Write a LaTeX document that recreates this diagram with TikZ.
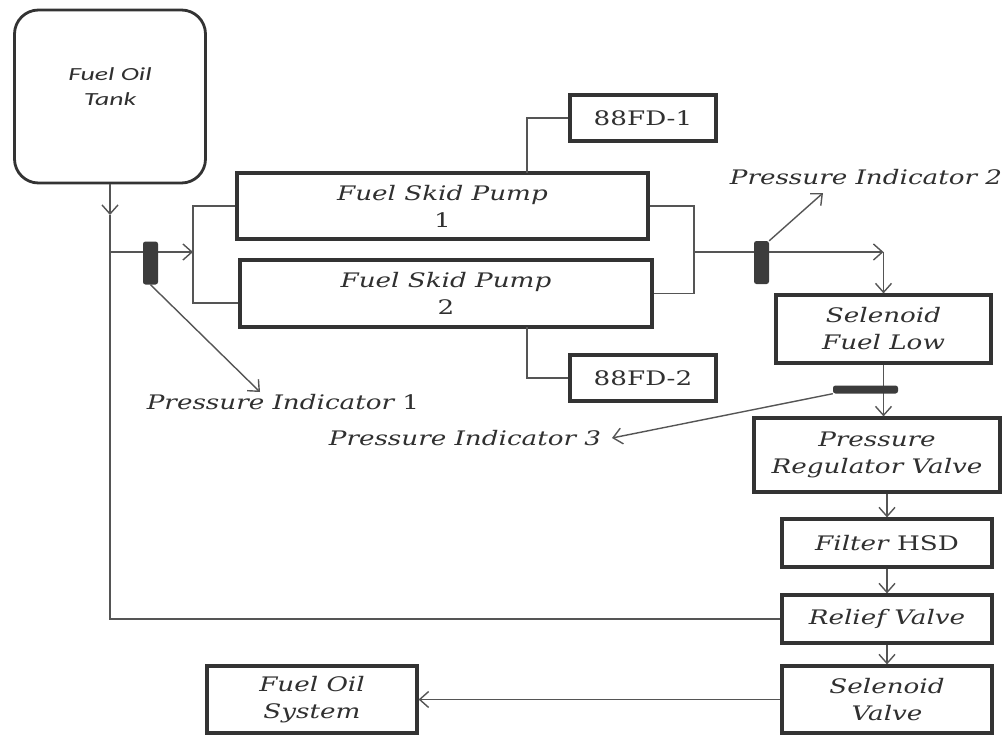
\documentclass[tikz,border=0pt]{standalone}
\usepackage{fontspec}
\setmainfont{DejaVu Serif}[FakeStretch=1.31]
\newfontfamily\tankfont{Carlito}[FakeStretch=1.5]
\usetikzlibrary{arrows.meta,calc}
\definecolor{boxc}{HTML}{333333}
\definecolor{linec}{HTML}{555555}
\definecolor{barc}{HTML}{3C3C3C}
\definecolor{textc}{HTML}{303030}
\begin{document}
\begin{tikzpicture}[x=1pt,y=-1pt,
  box/.style={draw=boxc,line width=3.2pt,fill=white,inner sep=0pt,align=center,text=textc,
    font=\fontsize{20}{27}\selectfont\itshape},
  conn/.style={draw=linec,line width=1.4pt},
  arr/.style={conn,-{Straight Barb[length=9pt,width=16pt,line width=1.4pt]}},
  bar/.style={fill=barc,draw=none,rounded corners=2.5pt,inner sep=0pt},
  lbl/.style={font=\fontsize{20}{24}\selectfont\itshape,inner sep=0pt,text=textc}]
\useasboundingbox[fill=white] (0,0) rectangle (1003,734);

% boxes
\node[box,fill=none,line width=2.8pt,minimum width=191,minimum height=173,rounded corners=24pt] (tank) at (110,96.5) {};
\node[font=\tankfont\itshape\fontsize{18.5}{25}\selectfont,align=center,text=textc] (tanklbl) at (110,87) {Fuel Oil\\Tank};
\node[box,minimum width=411,minimum height=66] (p1) at (442.5,206) {Fuel Skid Pump\\{\upshape 1}};
\node[box,minimum width=412,minimum height=67] (p2) at (446,293.5) {Fuel Skid Pump\\{\upshape 2}};
\node[box,minimum width=146,minimum height=46] (fd1) at (643,118) {\upshape 88FD-1};
\node[box,minimum width=146,minimum height=46] (fd2) at (643,378) {\upshape 88FD-2};
\node[box,minimum width=215,minimum height=68] (sfl) at (883.5,329) {Selenoid\\Fuel Low};
\node[box,minimum width=246,minimum height=74] (prv) at (877,455) {Pressure\\Regulator Valve};
\node[box,minimum width=210,minimum height=48] (fil) at (887,543) {Filter {\upshape HSD}};
\node[box,minimum width=210,minimum height=48] (rel) at (887,619) {Relief Valve};
\node[box,minimum width=210,minimum height=67] (sv) at (887,699.5) {Selenoid\\Valve};
\node[box,minimum width=210,minimum height=67] (fos) at (312,699.5) {Fuel Oil\\System};

% junction coordinates
\coordinate (ta) at (110,215);
\coordinate (j1) at (110,252);
\coordinate (lm) at (193,252);
\coordinate (lb) at (193,303);
\coordinate (rm) at (694,252);
\coordinate (ra) at (sfl.north |- rm);
\coordinate (c1) at (527,173);
\coordinate (c2) at (527,327);

% connectors
\draw[arr] (tank.south) -- (ta);
\draw[conn] (ta) |- (rel.west);
\draw[arr] (j1) -- (lm);
\draw[conn] (p1.west) -| (lm) -- (lb) -- (lb -| p2.west);
\draw[conn] (p1.east) -| (rm) |- (p2.east);
\draw[arr] (rm) -- (ra);
\draw[arr] (ra) -- (sfl.north);
\draw[conn] (c1) |- (fd1.west);
\draw[conn] (c2) |- (fd2.west);
\draw[arr] (sfl.south) -- (sfl.south |- prv.north);
\draw[arr] (fil.north |- prv.south) -- (fil.north);
\draw[arr] (fil.south) -- (rel.north);
\draw[arr] (rel.south) -- (sv.north);
\draw[arr] (sv.west) -- (fos.east);

% pressure indicators
\node[bar,minimum width=15,minimum height=43] (b1) at (150.5,263) {};
\node[bar,minimum width=15,minimum height=43] (b2) at (761.5,262.5) {};
\node[bar,minimum width=65,minimum height=8] (b3) at (865.5,389.5) {};
\node[lbl] (l1) at (283,402) {Pressure Indicator {\upshape 1}};
\node[lbl] (l2) at (866,177) {Pressure Indicator 2};
\node[lbl] (l3) at (465,438) {Pressure Indicator 3};
\coordinate (t1) at (260,392);
\coordinate (t2) at (823,193);
\coordinate (t3) at (612,438);
\draw[arr] (b1.south) -- (t1);
\draw[arr] (b2.north east) -- (t2);
\draw[arr] (b3.south west) -- (t3);
\end{tikzpicture}
\end{document}
